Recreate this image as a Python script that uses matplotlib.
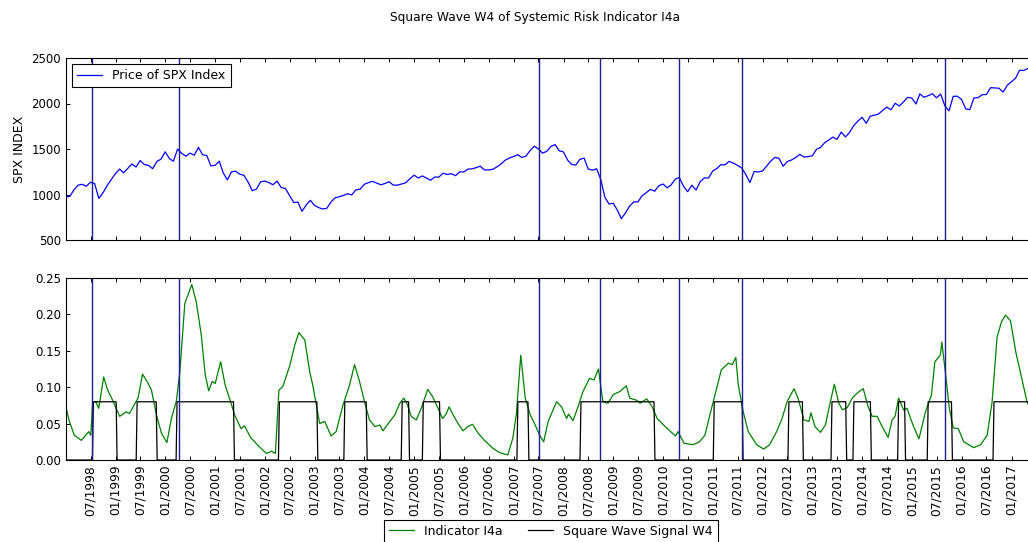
import numpy as np
import pandas as pd
import matplotlib
matplotlib.use("Agg")
import matplotlib.pyplot as plt
import matplotlib.dates as mdates
from matplotlib.ticker import FormatStrFormatter

plt.rcParams['font.family'] = ['DejaVu Sans']
plt.rcParams['font.size'] = 8.5

# SPX monthly closes, Jan 1998 .. May 2017 (first value = start of Jan 1998)
spx_start = ('1998-01-02', 975)
spx_close = [
    980, 1049, 1102, 1112, 1091, 1134, 1121, 957, 1017, 1099, 1164, 1229,
    1280, 1238, 1286, 1335, 1302, 1373, 1329, 1320, 1283, 1363, 1389, 1469,
    1394, 1366, 1499, 1452, 1421, 1455, 1431, 1518, 1437, 1429, 1315, 1320,
    1366, 1240, 1160, 1249, 1256, 1224, 1211, 1134, 1041, 1060, 1139, 1148,
    1130, 1107, 1147, 1077, 1067, 990, 912, 916, 815, 886, 936, 880,
    856, 841, 848, 917, 964, 975, 990, 1008, 996, 1051, 1058, 1112,
    1131, 1145, 1126, 1107, 1121, 1141, 1102, 1104, 1115, 1130, 1174, 1212,
    1181, 1204, 1181, 1157, 1192, 1191, 1234, 1220, 1229, 1207, 1249, 1248,
    1280, 1281, 1295, 1311, 1270, 1270, 1277, 1304, 1336, 1378, 1401, 1418,
    1438, 1407, 1421, 1482, 1531, 1503, 1455, 1474, 1527, 1549, 1481, 1468,
    1379, 1331, 1323, 1386, 1400, 1280, 1267, 1283, 1166, 969, 896, 903,
    826, 735, 798, 873, 919, 919, 987, 1021, 1057, 1036, 1096, 1115,
    1074, 1104, 1169, 1187, 1089, 1031, 1102, 1049, 1141, 1183, 1181, 1258,
    1286, 1327, 1326, 1364, 1345, 1321, 1292, 1219, 1131, 1253, 1247, 1258,
    1312, 1366, 1408, 1398, 1310, 1362, 1379, 1407, 1441, 1412, 1416, 1426,
    1498, 1515, 1569, 1598, 1631, 1606, 1686, 1633, 1682, 1757, 1806, 1848,
    1783, 1859, 1872, 1884, 1924, 1960, 1931, 2003, 1972, 2018, 2068, 2059,
    1995, 2105, 2068, 2086, 2107, 2063, 2104, 1972, 1920, 2079, 2080, 2044,
    1940, 1932, 2060, 2065, 2097, 2099, 2174, 2171, 2168, 2126, 2199, 2239,
    2279, 2364, 2363, 2384, 2395,
]

# Indicator I4a (decimal year, value)
i4a_years = [
    1998.00, 1998.07, 1998.17, 1998.31, 1998.41, 1998.46, 1998.50, 1998.54, 1998.61, 1998.66,
    1998.76, 1998.84, 1998.94, 1999.08, 1999.21, 1999.28, 1999.35, 1999.45, 1999.54, 1999.63,
    1999.72, 1999.82, 1999.92, 2000.03, 2000.12, 2000.22, 2000.29, 2000.39, 2000.45, 2000.53,
    2000.62, 2000.72, 2000.80, 2000.87, 2000.94, 2001.00, 2001.11, 2001.20, 2001.30, 2001.39,
    2001.52, 2001.59, 2001.71, 2001.89, 2002.03, 2002.13, 2002.21, 2002.28, 2002.36, 2002.50,
    2002.60, 2002.68, 2002.80, 2002.90, 2002.96, 2003.10, 2003.20, 2003.33, 2003.43, 2003.57,
    2003.70, 2003.80, 2003.90, 2004.00, 2004.10, 2004.21, 2004.31, 2004.37, 2004.51, 2004.61,
    2004.71, 2004.79, 2004.85, 2004.94, 2005.04, 2005.14, 2005.27, 2005.37, 2005.47, 2005.57,
    2005.64, 2005.70, 2005.78, 2005.88, 2005.98, 2006.08, 2006.17, 2006.28, 2006.41, 2006.58,
    2006.72, 2006.88, 2006.98, 2007.05, 2007.14, 2007.23, 2007.33, 2007.43, 2007.52, 2007.60,
    2007.69, 2007.86, 2007.96, 2008.06, 2008.10, 2008.19, 2008.29, 2008.39, 2008.52, 2008.61,
    2008.70, 2008.79, 2008.89, 2009.00, 2009.13, 2009.26, 2009.33, 2009.47, 2009.54, 2009.67,
    2009.78, 2009.88, 2010.01, 2010.15, 2010.25, 2010.30, 2010.42, 2010.60, 2010.73, 2010.84,
    2010.94, 2011.04, 2011.17, 2011.31, 2011.39, 2011.46, 2011.51, 2011.61, 2011.71, 2011.88,
    2012.02, 2012.14, 2012.28, 2012.39, 2012.49, 2012.63, 2012.71, 2012.83, 2012.93, 2012.97,
    2013.05, 2013.16, 2013.26, 2013.36, 2013.44, 2013.53, 2013.60, 2013.70, 2013.80, 2013.90,
    2014.02, 2014.12, 2014.20, 2014.30, 2014.40, 2014.52, 2014.60, 2014.66, 2014.73, 2014.83,
    2014.90, 2015.02, 2015.14, 2015.27, 2015.39, 2015.46, 2015.57, 2015.60, 2015.67, 2015.75,
    2015.83, 2015.93, 2016.04, 2016.24, 2016.38, 2016.51, 2016.61, 2016.71, 2016.80, 2016.88,
    2016.98, 2017.09, 2017.19, 2017.31, 2017.41,
]
i4a_values = [
    0.073, 0.053, 0.034, 0.027, 0.035, 0.039, 0.034, 0.080, 0.079, 0.071,
    0.114, 0.096, 0.082, 0.060, 0.066, 0.064, 0.073, 0.085, 0.118, 0.108,
    0.096, 0.062, 0.037, 0.024, 0.057, 0.081, 0.121, 0.215, 0.226, 0.241,
    0.217, 0.172, 0.117, 0.095, 0.108, 0.105, 0.135, 0.103, 0.082, 0.062,
    0.043, 0.047, 0.031, 0.018, 0.009, 0.012, 0.009, 0.096, 0.101, 0.130,
    0.158, 0.175, 0.165, 0.121, 0.103, 0.050, 0.053, 0.033, 0.039, 0.076,
    0.103, 0.131, 0.108, 0.080, 0.055, 0.046, 0.048, 0.040, 0.053, 0.062,
    0.078, 0.085, 0.078, 0.060, 0.055, 0.071, 0.097, 0.087, 0.072, 0.057,
    0.063, 0.073, 0.062, 0.050, 0.040, 0.046, 0.049, 0.037, 0.027, 0.016,
    0.010, 0.007, 0.030, 0.062, 0.144, 0.085, 0.062, 0.048, 0.034, 0.025,
    0.053, 0.080, 0.073, 0.057, 0.063, 0.054, 0.073, 0.094, 0.112, 0.110,
    0.125, 0.080, 0.078, 0.090, 0.094, 0.102, 0.085, 0.082, 0.078, 0.084,
    0.073, 0.057, 0.048, 0.039, 0.033, 0.039, 0.023, 0.021, 0.025, 0.034,
    0.062, 0.089, 0.124, 0.133, 0.131, 0.141, 0.103, 0.066, 0.039, 0.021,
    0.015, 0.021, 0.039, 0.057, 0.080, 0.098, 0.085, 0.055, 0.053, 0.065,
    0.046, 0.038, 0.048, 0.080, 0.104, 0.078, 0.069, 0.072, 0.085, 0.092,
    0.098, 0.073, 0.060, 0.060, 0.046, 0.031, 0.055, 0.060, 0.085, 0.069,
    0.071, 0.048, 0.029, 0.066, 0.089, 0.135, 0.144, 0.162, 0.121, 0.071,
    0.044, 0.043, 0.025, 0.017, 0.021, 0.034, 0.080, 0.169, 0.190, 0.199,
    0.191, 0.147, 0.117, 0.080, 0.065,
]

# Square wave W4: periods where the signal is on
w4_level = 0.08
w4_on = [
    ('1998-07-15', '1999-01-05'), ('1999-06-01', '1999-10-26'),
    ('2000-03-20', '2001-05-15'), ('2002-04-10', '2003-01-17'),
    ('2003-08-03', '2004-01-14'), ('2004-09-27', '2004-11-20'),
    ('2005-03-01', '2005-07-05'), ('2007-01-24', '2007-04-15'),
    ('2008-05-01', '2009-10-26'), ('2011-01-04', '2011-08-04'),
    ('2012-07-05', '2012-10-19'), ('2013-05-17', '2013-09-02'),
    ('2013-10-25', '2014-03-02'), ('2014-09-18', '2014-11-08'),
    ('2015-04-23', '2015-10-18'), ('2016-08-18', '2017-05-31'),
]

# crisis markers
event_dates = ['1998-07-10', '2000-04-08', '2007-07-08', '2008-09-24',
               '2010-04-24', '2011-08-04', '2015-08-28']

x_start, x_end = '1998-01-02', '2017-05-31'


def year_to_date(y):
    y = np.asarray(y)
    return pd.Timestamp('1998-01-01') + pd.to_timedelta((y - 1998.0) * 365.25, unit='D')


spx_dates = [pd.Timestamp(spx_start[0])] + list(pd.date_range('1998-01-31', periods=len(spx_close), freq='ME'))
spx_vals = [spx_start[1]] + spx_close
i4a_dates = year_to_date(i4a_years)

one_week = pd.Timedelta(days=7)
sq_x = [pd.Timestamp(x_start)]
sq_y = [0.0]
for s, e in w4_on:
    s, e = pd.Timestamp(s), pd.Timestamp(e)
    sq_x += [s, s + one_week, e, e + one_week]
    sq_y += [0.0, w4_level, w4_level, 0.0]

W, H = 1028, 542
fig = plt.figure(figsize=(W / 100, H / 100), dpi=100)
left, right = 66 / W, 1032 / W
ax1 = fig.add_axes([left, 1 - 240 / H, right - left, 182 / H])
ax2 = fig.add_axes([left, 1 - 460 / H, right - left, 182 / H], sharex=ax1)

ax1.plot(spx_dates, spx_vals, color='#0000ff', lw=0.9, label='Price of SPX Index')
ax2.plot(i4a_dates, i4a_values, color='#008000', lw=0.9, label='Indicator I4a')
ax2.plot(sq_x, sq_y, color='k', lw=0.9, label='Square Wave Signal W4')

for d in event_dates:
    for ax in (ax1, ax2):
        ax.axvline(pd.Timestamp(d), color='#1c1c96', lw=1.0)

ax1.set_xlim(pd.Timestamp(x_start), pd.Timestamp(x_end))
ax1.set_ylim(500, 2500)
ax1.set_yticks([500, 1000, 1500, 2000, 2500])
ax1.set_ylabel('SPX INDEX', fontsize=9)
ax2.set_ylim(0, 0.25)
ax2.set_yticks([0, 0.05, 0.10, 0.15, 0.20, 0.25])
ax2.yaxis.set_major_formatter(FormatStrFormatter('%.2f'))

ax2.xaxis.set_major_locator(mdates.MonthLocator(bymonth=[1, 7]))
ax2.xaxis.set_major_formatter(mdates.DateFormatter('%m/%Y'))
plt.setp(ax1.get_xticklabels(), visible=False)
plt.setp(ax2.get_xticklabels(), rotation=90, fontsize=8.8)

for ax in (ax1, ax2):
    ax.tick_params(direction='in', top=True, right=True, length=3, width=0.7)
    for sp in ax.spines.values():
        sp.set_linewidth(0.8)

leg1 = ax1.legend(loc='upper left', fancybox=False, edgecolor='k', framealpha=1,
                  borderpad=0.4, handlelength=2.0, fontsize=9)
leg1.get_frame().set_linewidth(0.8)

h, l = ax2.get_legend_handles_labels()
leg2 = fig.legend(h, l, loc='upper center', ncol=2, fancybox=False, edgecolor='k',
                  framealpha=1, bbox_to_anchor=(551 / W, 1 - 516 / H), columnspacing=2.0,
                  fontsize=9, borderaxespad=0.3)
leg2.get_frame().set_linewidth(0.8)

fig.text(535 / W, 1 - 18 / H, 'Square Wave W4 of Systemic Risk Indicator I4a',
         ha='center', va='center', fontsize=8.8)

fig.savefig('out.png', dpi=100, facecolor='white')
